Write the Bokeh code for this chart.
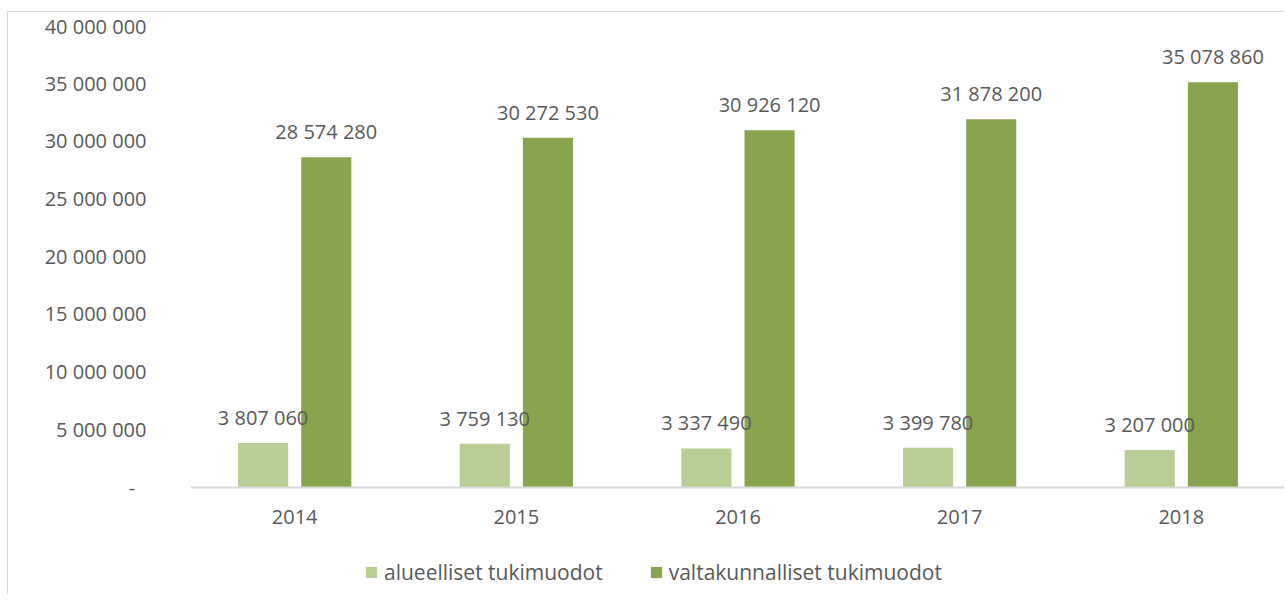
from bokeh.plotting import figure
from bokeh.models import (FactorRange, Range1d, ColumnDataSource, LabelSet,
                          Legend, LegendItem, FixedTicker)
from bokeh.core.properties import value
from bokeh.transform import dodge
from bokeh.embed import file_html
from bokeh.resources import INLINE

# ---- data ----
years = ["2014", "2015", "2016", "2017", "2018"]
alueelliset = [3807060, 3759130, 3337490, 3399780, 3207000]
valtakunnalliset = [28574280, 30272530, 30926120, 31878200, 35078860]
series_names = ["alueelliset tukimuodot", "valtakunnalliset tukimuodot"]
y_ticks = [0, 5000000, 10000000, 15000000, 20000000, 25000000, 30000000, 35000000, 40000000]
y_tick_labels = ["-", "5 000 000", "10 000 000", "15 000 000", "20 000 000",
                 "25 000 000", "30 000 000", "35 000 000", "40 000 000"]

LIGHT = "#B9CD96"
DARK = "#88A44F"
TEXT = "#595959"
FONT = "Open Sans"


def fmt(v):
    return f"{v:,}".replace(",", " ")


source = ColumnDataSource(dict(
    year=years,
    alue=alueelliset,
    valt=valtakunnalliset,
    alue_lbl=[fmt(v) for v in alueelliset],
    valt_lbl=[fmt(v) for v in valtakunnalliset],
))

p = figure(
    width=1277, height=583,
    x_range=FactorRange(*years, range_padding=-0.03, range_padding_units="absolute"),
    # lower limit leaves room below the zero line for the category labels and legend
    y_range=Range1d(-9404000, 40000000),
    output_backend="svg", toolbar_location=None,
    min_border_left=182, min_border_right=0, min_border_top=13, min_border_bottom=0,
)
p.styles = {"border-top": "1px solid #D9D9D9", "border-left": "1px solid #D9D9D9",
            "margin-top": "11px", "margin-left": "7px"}
p.background_fill_color = "white"
p.border_fill_color = "white"
p.outline_line_color = None
p.xgrid.grid_line_color = None
p.ygrid.grid_line_color = None

off = 0.1425
bw = 0.226
r1 = p.vbar(x=dodge("year", -off, range=p.x_range), top="alue", width=bw,
            source=source, fill_color=LIGHT, line_color=None)
r2 = p.vbar(x=dodge("year", off, range=p.x_range), top="valt", width=bw,
            source=source, fill_color=DARK, line_color=None)

for col, lbl, dx in (("alue", "alue_lbl", -off), ("valt", "valt_lbl", off)):
    p.add_layout(LabelSet(
        x=dodge("year", dx, range=p.x_range), y=col, text=lbl, source=source,
        y_offset=18, text_align="center", text_baseline="alphabetic",
        text_font=value(FONT), text_font_size="20px", text_color=TEXT,
    ))

# y axis
ya = p.yaxis[0]
ya.ticker = FixedTicker(ticks=y_ticks)
ya.major_label_overrides = {t: (l if t else l + "\u2007") for t, l in zip(y_ticks, y_tick_labels)}
ya.axis_line_color = None
ya.major_tick_line_color = None
ya.minor_tick_line_color = None
ya.major_label_standoff = 38
ya.major_label_text_font = FONT
ya.major_label_text_font_size = "20px"
ya.major_label_text_color = TEXT

# x axis, drawn on the zero line
xa = p.xaxis[0]
xa.fixed_location = 0
xa.axis_line_color = "#D9D9D9"
xa.axis_line_width = 2
xa.major_tick_line_color = None
xa.minor_tick_line_color = None
xa.major_label_standoff = 17
xa.major_label_text_font = FONT
xa.major_label_text_font_size = "20px"
xa.major_label_text_color = TEXT

legend = Legend(
    items=[LegendItem(label=series_names[0], renderers=[r1]),
           LegendItem(label=series_names[1], renderers=[r2])],
    orientation="horizontal", location=(174, 9),
    glyph_width=14, glyph_height=14, label_standoff=6, spacing=46,
    padding=0, margin=0, border_line_color=None, background_fill_alpha=0,
    label_text_font=FONT, label_text_font_size="21px", label_text_color=TEXT,
    label_height=20,
)
p.add_layout(legend, "center")

open("out.html", "w").write(file_html(p, INLINE))
